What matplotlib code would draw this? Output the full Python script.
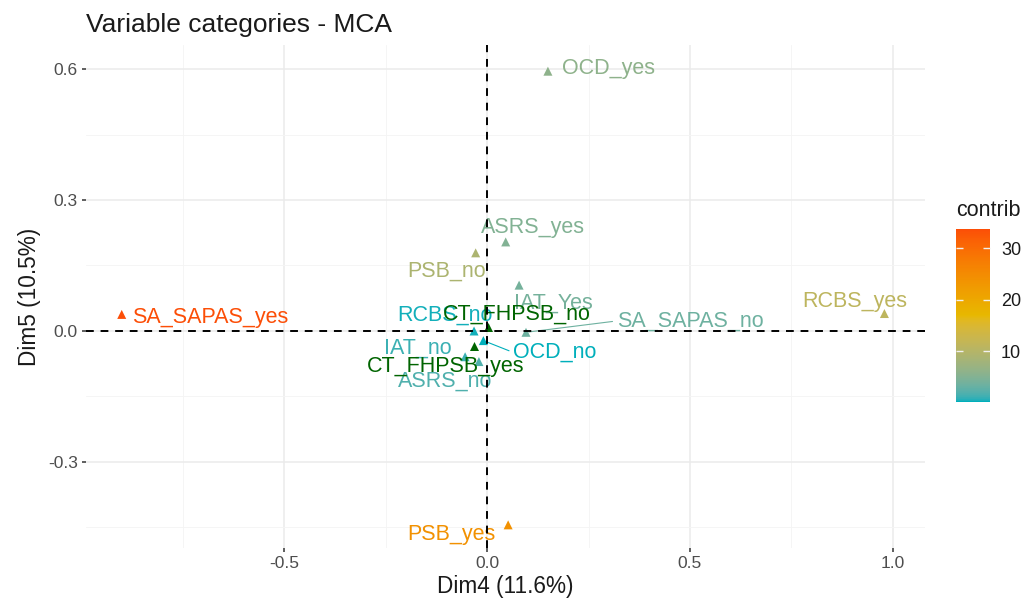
import numpy as np
import matplotlib
matplotlib.use('Agg')
import matplotlib.pyplot as plt
from matplotlib.colors import ListedColormap, Normalize, to_rgb

# active categories
cats = ['OCD_yes', 'OCD_no', 'ASRS_yes', 'ASRS_no', 'PSB_yes', 'PSB_no',
        'IAT_Yes', 'IAT_no', 'SA_SAPAS_yes', 'SA_SAPAS_no', 'RCBS_yes', 'RCBS_no']
dim4 = [0.150, -0.009, 0.046, -0.020, 0.052, -0.028,
        0.079, -0.054, -0.900, 0.096, 0.979, -0.032]
dim5 = [0.595, -0.022, 0.204, -0.070, -0.444, 0.179,
        0.105, -0.059, 0.038, -0.003, 0.040, 0.000]
contrib = [6.0, 0.2, 5.0, 2.0, 24.0, 9.0,
           4.0, 1.2, 33.7, 3.5, 11.0, 0.4]

# supplementary categories
sup_cats = ['CT_FHPSB_no', 'CT_FHPSB_yes']
sup_dim4 = [0.003, -0.032]
sup_dim5 = [0.010, -0.034]

# label offsets (data units), repel-style placement
lab_dx = [0.150, 0.176, 0.067, -0.083, -0.139, -0.071,
          0.084, -0.116, 0.218, 0.404, -0.073, -0.071]
lab_dy = [0.007, -0.027, 0.032, -0.046, -0.023, -0.043,
          -0.041, 0.020, -0.008, 0.026, 0.027, 0.037]
seg = [False, True, False, False, False, False,
       False, False, False, True, False, False]
sup_dx = [0.070, -0.071]
sup_dy = [0.029, -0.048]


# ggplot-like gradient (interpolated in Lab space)
def srgb_to_lab(c):
    c = np.array(c, dtype=float)
    lin = np.where(c <= 0.04045, c / 12.92, ((c + 0.055) / 1.055) ** 2.4)
    M = np.array([[0.4124, 0.3576, 0.1805],
                  [0.2126, 0.7152, 0.0722],
                  [0.0193, 0.1192, 0.9505]])
    xyz = M @ lin / np.array([0.95047, 1.0, 1.08883])
    f = np.where(xyz > 0.008856, np.cbrt(xyz), 7.787 * xyz + 16 / 116)
    return np.array([116 * f[1] - 16, 500 * (f[0] - f[1]), 200 * (f[1] - f[2])])


def lab_to_srgb(lab):
    L, a, b = lab
    fy = (L + 16) / 116
    fx = fy + a / 500
    fz = fy - b / 200
    f = np.array([fx, fy, fz])
    xyz = np.where(f > 0.2069, f ** 3, (f - 16 / 116) / 7.787) * np.array([0.95047, 1.0, 1.08883])
    Minv = np.array([[3.2406, -1.5372, -0.4986],
                     [-0.9689, 1.8758, 0.0415],
                     [0.0557, -0.2040, 1.0570]])
    lin = Minv @ xyz
    lin = np.clip(lin, 0, 1)
    c = np.where(lin <= 0.0031308, 12.92 * lin, 1.055 * lin ** (1 / 2.4) - 0.055)
    return np.clip(c, 0, 1)


grad = [srgb_to_lab(to_rgb(h)) for h in ['#00AFBB', '#E7B800', '#FC4E07']]
cols = []
for t in np.linspace(0, 1, 256):
    if t <= 0.5:
        lab = grad[0] + (grad[1] - grad[0]) * (t / 0.5)
    else:
        lab = grad[1] + (grad[2] - grad[1]) * ((t - 0.5) / 0.5)
    cols.append(lab_to_srgb(lab))
cmap = ListedColormap(cols)
norm = Normalize(vmin=min(contrib), vmax=max(contrib))

plt.rcParams['font.family'] = ['Liberation Sans', 'DejaVu Sans']

fig = plt.figure(figsize=(10.29, 6.08), dpi=100)
ax = fig.add_axes([86 / 1029, 60 / 608, 839 / 1029, 503 / 608])

ax.set_xlim(-0.988, 1.079)
ax.set_ylim(-0.497, 0.655)
ax.set_xticks([-0.5, 0.0, 0.5, 1.0])
ax.set_xticklabels(['-0.5', '0.0', '0.5', '1.0'])
ax.set_yticks([-0.3, 0.0, 0.3, 0.6])
ax.set_yticklabels(['-0.3', '0.0', '0.3', '0.6'])
ax.set_xticks([-0.75, -0.25, 0.25, 0.75], minor=True)
ax.set_yticks([-0.45, -0.15, 0.15, 0.45], minor=True)
ax.grid(which='major', color='#EBEBEB', lw=1.1)
ax.grid(which='minor', color='#F4F4F4', lw=0.6)
ax.set_axisbelow(True)
for s in ax.spines.values():
    s.set_visible(False)
ax.tick_params(which='major', length=3, width=1.1, color='#333333',
               labelsize=12.5, labelcolor='#4D4D4D', pad=3)
ax.tick_params(which='minor', length=0)

ax.axhline(0, color='black', ls=(0, (4, 3.5)), lw=1.4, zorder=5)
ax.axvline(0, color='black', ls=(0, (4, 3.5)), lw=1.4, zorder=5)

pc = [cmap(norm(v)) for v in contrib]
ax.scatter(dim4, dim5, c=pc, marker='^', s=42, lw=0, zorder=3)
ax.scatter(sup_dim4, sup_dim5, c='darkgreen', marker='^', s=42, lw=0, zorder=3)

for i, name in enumerate(cats):
    tx = dim4[i] + lab_dx[i]
    ty = dim5[i] + lab_dy[i]
    if seg[i]:
        ax.annotate(name, xy=(dim4[i], dim5[i]), xytext=(tx, ty),
                    ha='center', va='center', fontsize=15.5, color=pc[i], zorder=4,
                    arrowprops=dict(arrowstyle='-', color=pc[i], lw=0.8,
                                    relpos=(0, 0.5), shrinkA=1, shrinkB=2))
    else:
        ax.text(tx, ty, name, ha='center', va='center', fontsize=15.5,
                color=pc[i], zorder=4)

for i, name in enumerate(sup_cats):
    ax.text(sup_dim4[i] + sup_dx[i], sup_dim5[i] + sup_dy[i], name,
            ha='center', va='center', fontsize=15.5, color='darkgreen', zorder=4)

ax.set_xlabel('Dim4 (11.6%)', fontsize=16.3, color='#1A1A1A', labelpad=3)
ax.set_ylabel('Dim5 (10.5%)', fontsize=16.3, color='#1A1A1A', labelpad=5)

fig.text(86 / 1029, 1 - 25 / 608, 'Variable categories - MCA', fontsize=19,
         color='#1A1A1A', ha='left', va='center')

# colorbar
cax = fig.add_axes([956 / 1029, (608 - 402) / 608, 34 / 1029, 173 / 608])
sm = matplotlib.cm.ScalarMappable(norm=norm, cmap=cmap)
cb = fig.colorbar(sm, cax=cax)
cb.outline.set_visible(False)
cb.set_ticks([10, 20, 30])
cax.tick_params(left=True, right=True, direction='in', length=5, width=1,
                color='#F0F0F0', labelsize=13, labelcolor='#1A1A1A', pad=8)
fig.text(956 / 1029, 1 - 210 / 608, 'contrib', fontsize=15.5, color='#1A1A1A',
         ha='left', va='center')

fig.savefig('out.png', dpi=100)
